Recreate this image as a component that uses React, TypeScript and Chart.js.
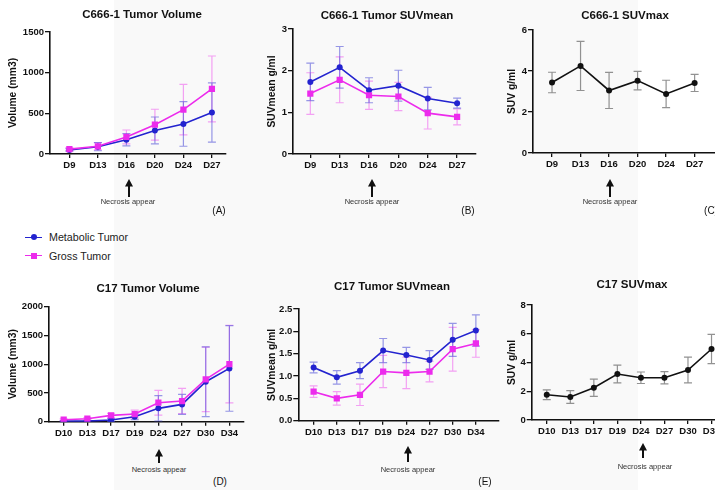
import React, { useEffect, useRef } from 'react';
import { Chart, registerables } from 'chart.js';

Chart.register(...registerables);

const FONT = '"Liberation Sans", Arial, Helvetica, sans-serif';
Chart.defaults.font.family = FONT;

// ---------- DATA ----------
const daysC666 = ['D9', 'D13', 'D16', 'D20', 'D24', 'D27'];
const daysC17 = ['D10', 'D13', 'D17', 'D19', 'D24', 'D27', 'D30', 'D34'];

// (A) C666-1 Tumor Volume
const volMetC666 = [50, 90, 175, 290, 370, 510];
const volMetErrC666 = [15, 50, 75, 165, 275, 365];
const volGrossC666 = [60, 95, 210, 360, 545, 800];
const volGrossErrC666 = [20, 45, 85, 190, 310, 405];

// (B) C666-1 Tumor SUVmean
const suvMeanMetC666 = [1.73, 2.08, 1.53, 1.64, 1.33, 1.22];
const suvMeanMetErrC666 = [0.45, 0.5, 0.3, 0.37, 0.27, 0.12];
const suvMeanGrossC666 = [1.45, 1.78, 1.41, 1.38, 0.98, 0.89];
const suvMeanGrossErrC666 = [0.5, 0.55, 0.34, 0.34, 0.38, 0.19];

// (C) C666-1 SUVmax
const suvMaxC666 = [3.44, 4.25, 3.05, 3.53, 2.88, 3.42];
const suvMaxErrC666 = [0.5, 1.2, 0.88, 0.45, 0.67, 0.42];

// (D) C17 Tumor Volume
const volMetC17 = [10, 10, 30, 87, 232, 301, 695, 927];
const volMetErrC17 = [10, 15, 25, 50, 220, 175, 608, 745];
const volGrossC17 = [35, 52, 110, 133, 330, 359, 736, 1002];
const volGrossErrC17 = [15, 20, 35, 70, 215, 220, 560, 675];

// (E) C17 Tumor SUVmean
const suvMeanMetC17 = [1.19, 0.97, 1.12, 1.57, 1.47, 1.36, 1.81, 2.02];
const suvMeanMetErrC17 = [0.12, 0.15, 0.18, 0.27, 0.17, 0.21, 0.37, 0.35];
const suvMeanGrossC17 = [0.65, 0.5, 0.58, 1.1, 1.07, 1.1, 1.6, 1.73];
const suvMeanGrossErrC17 = [0.13, 0.15, 0.24, 0.36, 0.35, 0.23, 0.49, 0.31];

// (F) C17 SUVmax
const suvMaxC17 = [1.76, 1.6, 2.25, 3.2, 2.94, 2.94, 3.48, 4.94];
const suvMaxErrC17 = [0.34, 0.45, 0.6, 0.62, 0.4, 0.42, 0.9, 1.02];

const legendLabels = ['Metabolic Tumor', 'Gross Tumor'];
const panelLetters = ['(A)', '(B)', '(C)', '(D)', '(E)'];
const necrosisText = 'Necrosis appear';

// ---------- STYLES ----------
const BLUE = '#2323cf';
const BLUE_ERR = 'rgba(70,70,215,0.55)';
const PINK = '#ec2bec';
const PINK_ERR = 'rgba(238,90,238,0.55)';
const BLACK = '#111111';
const GRAY_ERR = 'rgba(110,110,110,0.75)';

type Series = {
  label: string;
  values: number[];
  errors: number[];
  color: string;
  errColor: string;
  pointStyle: string;
  radius: number;
};

type PanelSpec = {
  key: string;
  left: number;
  top: number;
  width: number;
  height: number;
  padTop: number;
  yWidth: number;
  xHeight: number;
  xMin: number;
  xMax: number;
  yMax: number;
  yStep: number;
  yDecimals: number;
  labels: string[];
  series: Series[];
  yTitle: string;
  yTitleX: number;
};

const gross = (values: number[], errors: number[]): Series => ({
  label: legendLabels[1], values, errors, color: PINK, errColor: PINK_ERR, pointStyle: 'rect', radius: 4.4,
});
const metab = (values: number[], errors: number[]): Series => ({
  label: legendLabels[0], values, errors, color: BLUE, errColor: BLUE_ERR, pointStyle: 'circle', radius: 3,
});
const single = (values: number[], errors: number[]): Series => ({
  label: 'SUVmax', values, errors, color: BLACK, errColor: GRAY_ERR, pointStyle: 'circle', radius: 3,
});

const panels: PanelSpec[] = [
  {
    key: 'A', left: 0, top: 0, width: 230, height: 180, padTop: 32, yWidth: 50, xHeight: 26,
    xMin: -0.68, xMax: 5.48, yMax: 1500, yStep: 500, yDecimals: 0, labels: daysC666,
    series: [gross(volGrossC666, volGrossErrC666), metab(volMetC666, volMetErrC666)],
    yTitle: 'Volume (mm3)', yTitleX: 13,
  },
  {
    key: 'B', left: 240, top: 0, width: 240, height: 180, padTop: 29, yWidth: 53, xHeight: 26,
    xMin: -0.59, xMax: 5.63, yMax: 3, yStep: 1, yDecimals: 0, labels: daysC666,
    series: [gross(suvMeanGrossC666, suvMeanGrossErrC666), metab(suvMeanMetC666, suvMeanMetErrC666)],
    yTitle: 'SUVmean g/ml', yTitleX: 31.7,
  },
  {
    key: 'C', left: 480, top: 0, width: 250, height: 180, padTop: 30, yWidth: 53, xHeight: 27,
    xMin: -0.667, xMax: 6.1, yMax: 6, yStep: 2, yDecimals: 0, labels: daysC666,
    series: [single(suvMaxC666, suvMaxErrC666)],
    yTitle: 'SUV g/ml', yTitleX: 31.7,
  },
  {
    key: 'D', left: 0, top: 280, width: 248, height: 165, padTop: 26.7, yWidth: 49, xHeight: 23.3,
    xMin: -0.62, xMax: 7.6, yMax: 2000, yStep: 500, yDecimals: 0, labels: daysC17,
    series: [gross(volGrossC17, volGrossErrC17), metab(volMetC17, volMetErrC17)],
    yTitle: 'Volume (mm3)', yTitleX: 13,
  },
  {
    key: 'E', left: 240, top: 280, width: 263, height: 165, padTop: 29, yWidth: 58.3, xHeight: 24.3,
    xMin: -0.66, xMax: 7.98, yMax: 2.5, yStep: 0.5, yDecimals: 1, labels: daysC17,
    series: [gross(suvMeanGrossC17, suvMeanGrossErrC17), metab(suvMeanMetC17, suvMeanMetErrC17)],
    yTitle: 'SUVmean g/ml', yTitleX: 31.7,
  },
  {
    key: 'F', left: 480, top: 280, width: 260, height: 165, padTop: 25, yWidth: 51.7, xHeight: 25,
    xMin: -0.64, xMax: 8.04, yMax: 8, yStep: 2, yDecimals: 0, labels: daysC17,
    series: [single(suvMaxC17, suvMaxErrC17)],
    yTitle: 'SUV g/ml', yTitleX: 31.7,
  },
];

const titles = [
  { text: 'C666-1 Tumor Volume', x: 142, y: 15 },
  { text: 'C666-1 Tumor SUVmean', x: 387, y: 15.5 },
  { text: 'C666-1 SUVmax', x: 625, y: 15.5 },
  { text: 'C17 Tumor Volume', x: 148, y: 289 },
  { text: 'C17 Tumor SUVmean', x: 392, y: 287 },
  { text: 'C17 SUVmax', x: 632, y: 285 },
];

const arrows = [
  { x: 129, tip: 179, tail: 197 },
  { x: 372, tip: 179, tail: 197 },
  { x: 610, tip: 179, tail: 197 },
  { x: 159, tip: 449, tail: 463 },
  { x: 408, tip: 446, tail: 462 },
  { x: 643, tip: 443, tail: 458 },
];

const necrosisPos = [
  { x: 128, y: 202 }, { x: 372, y: 202 }, { x: 610, y: 202 },
  { x: 159, y: 470 }, { x: 408, y: 470 }, { x: 645, y: 467 },
];

const letterPos = [
  { x: 219, y: 211 }, { x: 468, y: 211 }, { x: 711, y: 211 },
  { x: 220, y: 482 }, { x: 485, y: 482 },
];

// ---------- ERROR BAR PLUGIN ----------
const errorBarPlugin = {
  id: 'errorBars',
  beforeDatasetsDraw(chart: any) {
    const ctx = chart.ctx;
    const xs = chart.scales.x;
    const ys = chart.scales.y;
    chart.data.datasets.forEach((ds: any) => {
      if (!ds.errors) return;
      ctx.save();
      ctx.strokeStyle = ds.errorColor;
      ctx.lineWidth = 1.2;
      ds.data.forEach((p: any, i: number) => {
        const e = ds.errors[i];
        const x = xs.getPixelForValue(p.x);
        const yTop = ys.getPixelForValue(p.y + e);
        const yBot = ys.getPixelForValue(Math.max(p.y - e, ys.min));
        ctx.beginPath();
        ctx.moveTo(x, yTop);
        ctx.lineTo(x, yBot);
        ctx.moveTo(x - 4, yTop);
        ctx.lineTo(x + 4, yTop);
        if (p.y - e >= ys.min) {
          ctx.moveTo(x - 4, yBot);
          ctx.lineTo(x + 4, yBot);
        }
        ctx.stroke();
      });
      ctx.restore();
    });
  },
};

function buildConfig(p: PanelSpec): any {
  return {
    type: 'line',
    data: {
      datasets: p.series.map((s) => ({
        label: s.label,
        data: s.values.map((v, i) => ({ x: i, y: v })),
        errors: s.errors,
        errorColor: s.errColor,
        borderColor: s.color,
        backgroundColor: s.color,
        pointBackgroundColor: s.color,
        pointBorderColor: s.color,
        pointStyle: s.pointStyle,
        pointRadius: s.radius,
        pointBorderWidth: 0,
        borderWidth: 1.6,
        tension: 0,
        fill: false,
      })),
    },
    options: {
      responsive: false,
      maintainAspectRatio: false,
      animation: false,
      events: [],
      layout: { padding: { top: p.padTop, left: 0, right: 0, bottom: 0 } },
      plugins: {
        legend: { display: false },
        tooltip: { enabled: false },
        title: { display: false },
      },
      scales: {
        x: {
          type: 'linear',
          min: p.xMin,
          max: p.xMax,
          afterBuildTicks: (scale: any) => {
            scale.ticks = p.labels.map((_, i) => ({ value: i }));
          },
          afterFit: (scale: any) => {
            scale.height = p.xHeight;
          },
          ticks: {
            callback: (v: any) => p.labels[v] ?? '',
            font: { size: 9.5, weight: 'bold' },
            color: BLACK,
            padding: 2,
            maxRotation: 0,
            autoSkip: false,
          },
          grid: { display: true, drawOnChartArea: false, drawTicks: true, tickLength: 4, color: BLACK, lineWidth: 1.3 },
          border: { display: true, color: BLACK, width: 1.6 },
        },
        y: {
          type: 'linear',
          min: 0,
          max: p.yMax,
          afterBuildTicks: (scale: any) => {
            const t: any[] = [];
            const n = Math.round(p.yMax / p.yStep);
            for (let i = 0; i <= n; i++) t.push({ value: i * p.yStep });
            scale.ticks = t;
          },
          afterFit: (scale: any) => {
            scale.width = p.yWidth;
          },
          ticks: {
            callback: (v: any) => Number(v).toFixed(p.yDecimals),
            font: { size: 9.5, weight: 'bold' },
            color: BLACK,
            padding: 1,
            autoSkip: false,
          },
          grid: { display: true, drawOnChartArea: false, drawTicks: true, tickLength: 5, color: BLACK, lineWidth: 1.3 },
          border: { display: true, color: BLACK, width: 1.6 },
          title: {
            display: true,
            text: p.yTitle,
            font: { size: 10.3, weight: 'bold' },
            color: BLACK,
            padding: { top: p.yTitleX - 6.2, bottom: 0 },
          },
        },
      },
    },
    plugins: [errorBarPlugin],
  };
}

function Panel({ spec }: { spec: PanelSpec }) {
  const ref = useRef<HTMLCanvasElement | null>(null);
  useEffect(() => {
    if (!ref.current) return;
    const chart = new Chart(ref.current, buildConfig(spec));
    return () => chart.destroy();
  }, [spec]);
  return (
    <canvas
      ref={ref}
      width={spec.width}
      height={spec.height}
      style={{ position: 'absolute', left: spec.left, top: spec.top, width: spec.width, height: spec.height }}
    />
  );
}

function Arrow({ x, tip, tail }: { x: number; tip: number; tail: number }) {
  const h = tail - tip;
  return (
    <svg
      width={10}
      height={h}
      style={{ position: 'absolute', left: x - 5, top: tip, overflow: 'visible' }}
    >
      <line x1={5} y1={6} x2={5} y2={h} stroke="#111" strokeWidth={2} />
      <polygon points={`1,${7.5} 5,0 9,${7.5}`} fill="#111" />
    </svg>
  );
}

const centered = (x: number, y: number): React.CSSProperties => ({
  position: 'absolute',
  left: x,
  top: y,
  transform: 'translate(-50%, -50%)',
  whiteSpace: 'nowrap',
  lineHeight: 1,
});

export default function App() {
  return (
    <div
      style={{
        position: 'fixed',
        left: 0,
        top: 0,
        width: 715,
        height: 490,
        overflow: 'hidden',
        background: '#ffffff',
        fontFamily: FONT,
      }}
    >
      <div style={{ position: 'absolute', left: 114, top: 0, width: 524, height: 490, background: '#f9f9f9' }} />
      {panels.map((p) => (
        <Panel key={p.key} spec={p} />
      ))}
      {titles.map((t) => (
        <div key={t.text} style={{ ...centered(t.x, t.y), fontSize: 11.5, fontWeight: 'bold', color: '#111' }}>
          {t.text}
        </div>
      ))}
      {arrows.map((a, i) => (
        <Arrow key={i} {...a} />
      ))}
      {necrosisPos.map((n, i) => (
        <div key={i} style={{ ...centered(n.x, n.y), fontSize: 7.5, color: '#333' }}>
          {necrosisText}
        </div>
      ))}
      {letterPos.map((l, i) => (
        <div key={i} style={{ ...centered(l.x, l.y), fontSize: 10, color: '#111' }}>
          {panelLetters[i]}
        </div>
      ))}
      {legendLabels.map((label, i) => {
        const y = i === 0 ? 237.3 : 255.7;
        const color = i === 0 ? BLUE : PINK;
        return (
          <React.Fragment key={label}>
            <div style={{ position: 'absolute', left: 25, top: y - 0.8, width: 17, height: 1.6, background: color }} />
            {i === 0 ? (
              <div style={{ position: 'absolute', left: 30.5, top: y - 3, width: 6, height: 6, borderRadius: 3, background: color }} />
            ) : (
              <div style={{ position: 'absolute', left: 30.5, top: y - 3, width: 6, height: 6, background: color }} />
            )}
            <div style={{ position: 'absolute', left: 49, top: y, transform: 'translateY(-50%)', fontSize: 10.7, color: '#222', lineHeight: 1, whiteSpace: 'nowrap' }}>
              {label}
            </div>
          </React.Fragment>
        );
      })}
    </div>
  );
}
